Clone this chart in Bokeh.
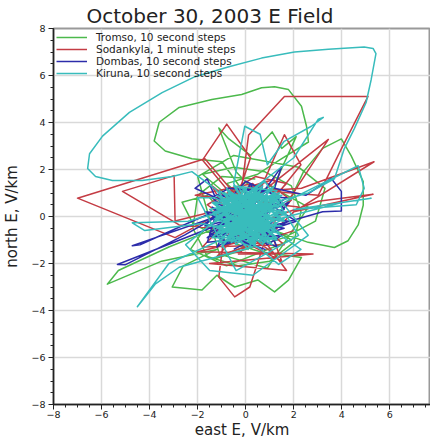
from bokeh.plotting import figure
from bokeh.models import Range1d, FixedTicker, Legend, LegendItem
from bokeh.embed import file_html
from bokeh.resources import INLINE

# ---------------- data (east E, north E in V/km) ----------------
tromso_e = [0.2, -0.8, 0.5, 1.4, 2.61, 2.53, 2.32, 1.78, 1.2, 0.66, -0.17, -1.41, -2.77, -3.6, -3.81, -3.35,
            -2.24, -0.99, -0.2, 0.9, 1.8, 2.4, 3.2, 3.98, 4.39, 4.89, 4.89, 4.68, 4.26, 3.69, 2.6, 1.2,
            -0.6, -1.6, -2.65, -2.2, -0.9, 0.6, 2.32, 1.78, 1.2, 0.5, -0.46, -1.2, -1.82, -3.06, -2.6, -1.2,
            -3.5, -5.76, -5.3, -3.2, -1.0, 0.8, -0.4, -1.12, -0.7, 0.2, 1.1, 1.5, 2.1, 1.3, 0.4, -1.3,
            1.6, 2.9, 3.3, 2.2, -0.5, -2.0, -1.1, 0.9, 2.6, 1.0, -1.7, -2.3, -0.8, 1.9, 0.3,
            -1.8, -0.5, 0.8, 1.9, 2.3, 2.0, 1.0, -0.3, -1.6, -2.2, -2.0, -1.0, 0.4]
tromso_n = [0.5, 1.4, 1.8, 2.4, 3.17, 3.84, 4.69, 5.4, 5.52, 5.48, 5.19, 4.98, 4.64, 4.01, 3.21, 2.79,
            2.46, 2.33, 1.2, -0.4, 0.6, 1.9, 2.9, 3.3, 2.58, 1.49, 0.48, -0.36, -1.03, -1.32, -1.1, -0.6,
            -0.2, 0.9, 0.61, -0.3, -1.0, -1.5, -1.74, -2.71, -3.21, -2.7, -3.0, -2.5, -3.13, -3.0, -2.1, -1.4,
            -1.9, -2.88, -2.3, -1.3, -0.4, 0.6, 1.9, 3.77, 3.3, 2.6, 3.6, 2.9, 3.4, 1.6, -1.1, -1.8,
            -0.9, -0.2, 1.2, 2.1, 2.6, 1.7, -1.6, -2.2, 0.4, 1.3, -0.5, -1.4, -2.1, -1.0, 0.0,
            1.8, 2.1, 1.9, 1.3, 0.2, -1.1, -1.9, -2.1, -1.7, -0.5, 0.9, 1.7, 1.6]

sodankyla_e = [0.0, 1.0, -1.7, -7.0, -2.94, -0.6, -2.94, -2.98, -5.13, -2.77, -0.4, 0.12, 1.61, 5.09, 3.98,
               3.02, 0.8, 2.32, 5.34, 2.0, 5.3, 3.02, 0.4, -1.8, -0.79, 0.2, -0.9, -1.12, -0.46, 0.17, 0.9,
               3.44, 0.5, 1.61, 2.3, -0.3, -2.0, 2.8, -1.5, 1.7, -0.7, 1.2, -1.3, 0.6, 2.2, -2.1, 0.3,
               1.5, -1.0, 0.8, -0.2, -1.4, 1.6, -1.8, 0.8, 1.9, -0.3, 1.2, -1.6, 0.4, 1.7, -1.2, 2.0]
sodankyla_n = [0.3, -0.8, 2.46, 0.78, -0.9, 0.4, -0.19, 1.74, 1.07, -0.36, -0.6, 3.47, 5.11, 5.11, 2.88,
               0.9, 1.1, 1.2, 2.33, 0.2, 0.95, 0.65, -0.3, 2.4, 3.93, 2.5, -0.8, -2.58, -3.42, -3.0, -0.7,
               3.28, 0.9, 3.48, 2.2, -1.1, -1.5, -1.6, -2.0, -2.3, 1.0, 1.6, 0.6, -1.2, 0.4, 0.9, 1.4,
               -1.9, -0.6, 0.2, -1.0, 1.3, -1.2, -1.3, 1.5, 0.7, -1.6, -1.6, 0.5, 1.7, 1.4, -1.7, -0.6]

dombas_e = [-0.5, 0.6, -1.0, -5.34, -5.0, -2.53, -1.2, -4.72, -4.4, -2.11, -0.6, -2.11, -1.6, -1.3, 0.5,
            1.49, 1.2, 2.5, 3.56, 3.98, 3.98, 3.2, 1.5, -1.3, -1.6, 0.9, -0.8, 1.3, -1.4, 0.2, 1.8,
            -1.2, 0.7, -0.3, 1.6, -1.5, 0.4, 2.1, -0.9, 1.1, -1.7, 0.0, 1.4, -0.6, 0.8,
            -1.3, -0.9, -1.5, -1.1, 1.4, 1.6, 1.2, -0.7, -1.4, 0.9, 1.5, -1.6, -1.0, 1.7, -1.2, 0.2,
            1.3, -1.7, 1.8, -0.5]
dombas_n = [0.2, -0.4, -0.3, -2.04, -2.05, -0.78, 0.0, -1.24, -1.2, -0.15, 0.5, 1.2, 1.6, 0.9, 0.7,
            2.12, 1.2, 0.9, 1.62, 1.07, 0.23, 0.2, -0.3, -0.8, -0.9, 1.1, 1.2, -1.0, 0.4, -1.3, 0.6,
            -0.7, 1.3, -1.1, -0.5, 0.1, 0.9, -0.2, -1.2, 0.3, -0.4, 1.5, 0.8, -0.9, -1.4,
            -0.6, -1.0, -0.7, -0.4, 0.6, 0.3, 1.0, 1.2, 0.8, -1.2, -0.8, -1.1, 0.9, 0.8, -1.3, 1.4,
            -1.3, 0.2, -0.2, -1.4]

kiruna_e = [0.1, 1.2, -1.1, 0.9, -0.8, 1.5, -1.3, 0.4, 0.2, -0.9, 1.3, -0.5, 1.0, -1.2, 1.6, -0.3,
            0.6, -1.0, 0.8, 2.6, 3.69, 4.1, 4.51, 5.01, 5.22, 5.42, 5.3, 4.93, 3.44, 2.03, 0.66, -0.7,
            -2.11, -3.48, -4.84, -5.96, -6.5, -6.58, -6.25, -5.55, -4.31, -3.06, -2.24, -1.3, 0.7, -0.6,
            1.4, -1.1, 0.3, -2.77, -3.77, -4.51, -3.2, -0.2, 1.1, -2.4, -4.72, -4.2, -1.8, 0.9, -0.5,
            -0.04, 0.6, 0.9, 1.6, 2.73, 3.23, 3.02, 2.0, -0.7, 1.2, 4.68, 4.93, 4.6, 2.0, 5.22, 4.0,
            1.0, -1.2, 0.5, 1.37, 2.3, 1.0, -1.3, -2.0, -0.4, 2.2, 0.8, -2.5, -1.5, 0.3, 2.6, 1.2,
            -0.9, 1.5, -1.4, 0.7, 1.3, -0.7, 0.2, 1.7, -1.2, 0.5, -0.2, 1.1, -0.9, 0.4, 1.4, -1.3,
            0.9, -0.4, 0.1,
            0.9, -1.0, 0.3, -0.2, 1.2, -1.3, 0.7, -0.6, 1.4, -0.8, 0.0, 0.5, -1.4, 1.1, -0.4, 0.8,
            -1.1, 0.2, 1.6, -0.7, 0.4, -0.1, 1.0, -1.2, 0.6, -0.5, 1.3, -0.9, 0.1, 1.5, -1.5, 0.7,
            -0.3, 1.2, -0.8, 0.3, -1.0, 0.9, -0.2, 1.7, -1.3, 0.5, -0.6, 1.1, -0.9, 0.0, 0.8, -1.2,
            0.4, 1.4, -0.4, -1.1, 1.0, -0.1, 0.6, -1.4, 1.3, -0.7, 0.2, 1.6, -0.5, 0.9, -1.2, 0.1,
            0.7, -0.8, 1.2, -0.3, 0.5, -1.0, 1.5, -0.6, 0.3, -1.3, 1.0, -0.2, 0.8, -0.9, 0.0, 1.3,
            -1.1, 0.6, -0.4, 1.1, -1.5, 0.4, -0.1, 0.9, -0.7, 1.4]
kiruna_n = [0.2, -0.6, 0.7, 0.9, -1.0, 0.3, -0.2, 1.2, -1.2, 1.0, -1.0, -0.7, 1.1, 0.3, -0.2, 1.3,
            -0.9, -0.9, 0.5, 1.0, 1.6, 2.88, 3.72, 4.85, 5.82, 6.93, 7.15, 7.21, 7.12, 7.0, 6.74, 6.37,
            5.95, 5.27, 4.43, 3.42, 2.67, 2.04, 1.7, 1.53, 1.53, 1.7, 1.91, 1.2, -1.1, 0.9,
            0.6, -0.8, -1.3, -2.16, -2.88, -3.84, -2.0, -0.6, 0.8, -0.2, -0.27, -0.6, -0.3, -1.0, 1.4,
            3.84, 3.5, 2.2, 3.2, 3.84, 4.22, 4.14, 2.5, 0.4, 0.4, 2.16, 1.2, 0.5, 0.3, 0.78, 0.6,
            -0.2, -0.4, -1.3, -2.04, -1.4, -0.5, 0.8, 0.8, -2.3, -0.8, 1.5, -1.2, -2.3, -2.5, -0.8, 1.0,
            -1.1, 0.9, 0.6, -1.2, -0.3, 1.1, -0.8, 0.2, -0.5, 1.2, -1.0, 0.7, -0.1, -1.1, 1.0, 0.2,
            -0.6, 0.5, -0.1,
            -0.3, 0.4, -1.1, 1.1, 0.8, -0.8, 0.2, -0.4, -0.7, 1.2, -0.6, 1.0, 0.1, -1.2, 0.6, -0.8,
            -1.1, 0.4, 0.5, 0.0, -1.3, 0.9, 0.0, 0.9, -0.5, 1.3, 1.1, -0.6, -0.2, -0.4, -0.4, 1.3,
            -1.0, -0.1, 0.5, 0.7, -1.3, 1.0, -0.3, 0.1, 0.6, -1.0, 1.0, 0.4, -0.2, 1.2, -1.1, -0.5,
            0.1, 0.9, -1.2, 1.1, -0.6, 0.5, 1.1, -0.9, -0.9, 0.8, -0.8, -0.1, -0.1, 0.6, 0.2, -1.4,
            -0.2, -0.9, 1.3, 0.3, -0.7, 0.7, 0.2, -1.1, 1.0, -0.1, -1.0, 0.8, 0.3, 1.0, -0.9, -0.3,
            -0.7, 0.6, -0.5, 0.9, 0.3, -1.2, 1.3, -0.5, -0.3, 0.4]

labels = ["Tromso, 10 second steps", "Sodankyla, 1 minute steps",
          "Dombas, 10 second steps", "Kiruna, 10 second steps"]
colors = ["#4cb94c", "#c43c44", "#2c2caa", "#38bcbc"]
major_ticks = [-8, -6, -4, -2, 0, 2, 4, 6, 8]
minor_ticks = [v / 2 for v in range(-16, 17)]

# ---------------- figure ----------------
p = figure(width=430, height=441, output_backend="svg", toolbar_location=None,
           x_range=Range1d(-8, 7.69), y_range=Range1d(-8, 8),
           min_border_left=51, min_border_right=0, min_border_top=28, min_border_bottom=0,
           title="October 30, 2003 E Field")
p.title.text_font = "DejaVu Sans"
p.title.text_font_size = "20px"
p.title.text_font_style = "normal"
p.title.text_color = "#222222"
p.title.align = "left"
p.title.offset = 33
p.title.standoff = 2
p.background_fill_color = "white"
p.border_fill_color = "white"
p.outline_line_color = "#999999"
p.outline_line_width = 2

series = [(tromso_e, tromso_n), (sodankyla_e, sodankyla_n), (dombas_e, dombas_n), (kiruna_e, kiruna_n)]
renderers = []
for (e, n), c in zip(series, colors):
    r = p.line(e, n, line_color=c, line_width=1.5, line_join="round")
    renderers.append(r)

for ax in (p.xaxis[0], p.yaxis[0]):
    ax.ticker = FixedTicker(ticks=major_ticks, minor_ticks=minor_ticks)
    ax.axis_line_color = "#222222"
    ax.axis_line_width = 1.5
    ax.major_tick_line_color = "#222222"
    ax.minor_tick_line_color = "#222222"
    ax.major_tick_in = 0
    ax.minor_tick_in = 0
    ax.major_tick_out = 5
    ax.minor_tick_out = 3
    ax.major_label_text_font = "DejaVu Sans"
    ax.major_label_text_font_size = "9.5px"
    ax.major_label_text_color = "#222222"
    ax.axis_label_text_font = "DejaVu Sans"
    ax.axis_label_text_font_size = "15px"
    ax.axis_label_text_font_style = "normal"
    ax.axis_label_text_color = "#222222"

p.xaxis.major_label_standoff = 1
p.yaxis.major_label_standoff = 3
p.yaxis.axis_label = "north E, V/km"
p.yaxis.axis_label_standoff = 7
p.xaxis.axis_label = "east E, V/km"
p.xaxis.axis_label_standoff = 0

p.grid.grid_line_color = "#d9d9d9"
p.grid.grid_line_width = 1.5
p.xgrid.ticker = FixedTicker(ticks=major_ticks)
p.ygrid.ticker = FixedTicker(ticks=major_ticks)

legend = Legend(items=[LegendItem(label=l, renderers=[r]) for l, r in zip(labels, renderers)],
                location="top_left", margin=1, padding=2, spacing=0,
                glyph_width=31, glyph_height=12, label_height=12, label_standoff=9,
                label_text_font="DejaVu Sans", label_text_font_size="10.5px",
                label_text_color="#222222",
                background_fill_alpha=0, border_line_alpha=0)
p.add_layout(legend)

open("out.html", "w").write(file_html(p, INLINE))
